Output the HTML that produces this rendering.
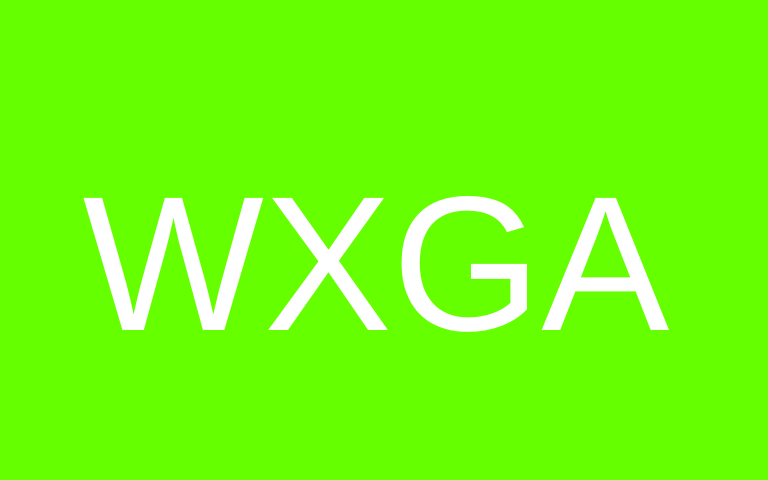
<!DOCTYPE html>
<html>
<head>
<meta charset="utf-8">
<style>
  html,body{margin:0;padding:0;}
  body{width:768px;height:480px;overflow:hidden;background:#66ff00;}
  svg{display:block;}
</style>
</head>
<body>
<svg width="768" height="480" viewBox="0 0 768 480">
  <rect x="0" y="0" width="768" height="480" fill="#66ff00"/>
  <text x="376" y="330" text-anchor="middle" font-family="Liberation Sans, Arial, sans-serif" font-size="192" fill="#ffffff">WXGA</text>
</svg>
</body>
</html>
